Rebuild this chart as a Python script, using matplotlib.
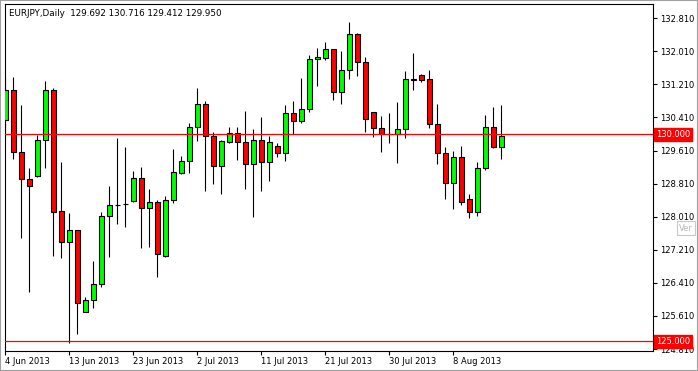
import matplotlib.pyplot as plt
from matplotlib.patches import Rectangle
import numpy as np

# EURJPY daily candles (open, high, low, close)
opens = [130.348, 131.073, 129.567, 128.921, 128.994, 129.857, 131.073, 128.140, 127.405, 127.680,
         125.712, 125.995, 126.374, 128.026, 128.296, 128.305, 128.382, 128.938, 128.212, 128.358,
         127.066, 128.406, 129.073, 129.349, 130.171, 130.728, 129.954, 129.228, 129.823, 130.026,
         129.809, 129.277, 129.857, 129.325, 129.712, 129.543, 130.510, 130.316, 130.607, 131.816,
         131.855, 132.058, 131.018, 131.550, 132.428, 131.743, 130.534, 130.147, 130.017, 130.002,
         130.123, 131.330, 131.429, 131.332, 130.244, 129.543, 128.817, 129.446, 128.430, 128.116,
         129.180, 130.171, 129.692]
highs = [131.395, 131.395, 130.711, 129.194, 129.985, 131.291, 131.115, 129.339, 128.092, 127.688,
         126.067, 126.938, 128.130, 128.752, 129.920, 129.695, 129.115, 129.211, 128.672, 128.413,
         128.510, 129.647, 129.470, 130.275, 131.122, 130.807, 130.058, 129.864, 130.179, 130.179,
         130.566, 130.130, 130.420, 129.961, 129.784, 130.711, 130.807, 131.364, 131.920, 132.082,
         132.234, 132.070, 132.017, 132.718, 132.452, 131.879, 130.540, 130.445, 130.517, 130.776,
         131.533, 131.968, 131.453, 131.557, 130.728, 129.702, 129.605, 129.719, 128.558, 129.332,
         130.469, 130.662, 130.716]
lows = [129.937, 129.405, 127.501, 126.181, 128.977, 129.194, 127.066, 127.018, 124.962, 125.173,
        125.697, 125.809, 126.316, 127.042, 127.826, 127.767, 128.372, 127.260, 127.284, 126.558,
        127.042, 128.348, 129.049, 129.073, 129.833, 128.638, 128.807, 128.566, 129.799, 129.388,
        128.686, 128.009, 128.638, 128.880, 129.460, 129.364, 130.009, 130.283, 130.549, 131.177,
        131.799, 130.832, 130.742, 131.347, 131.419, 130.065, 129.944, 129.581, 129.799, 129.315,
        129.920, 131.066, 131.274, 130.147, 129.291, 128.430, 128.203, 128.285, 127.971, 128.019,
        129.131, 129.664, 129.412]
closes = [131.073, 129.567, 128.914, 128.759, 129.864, 131.073, 128.130, 127.405, 127.680, 125.915,
          125.987, 126.374, 128.026, 128.285, 128.300, 128.310, 128.938, 128.212, 128.358, 127.100,
          128.406, 129.083, 129.349, 130.171, 130.728, 129.954, 129.228, 129.840, 130.026, 129.809,
          129.277, 129.857, 129.325, 129.809, 129.543, 130.510, 130.316, 130.607, 131.816, 131.879,
          132.058, 131.018, 131.550, 132.428, 131.743, 130.365, 130.147, 130.017, 130.020, 130.123,
          131.332, 131.322, 131.323, 130.244, 129.543, 128.817, 129.446, 128.358, 128.116, 129.180,
          130.171, 129.688, 129.950]

date_labels = ["4 Jun 2013", "13 Jun 2013", "23 Jun 2013", "2 Jul 2013",
               "11 Jul 2013", "21 Jul 2013", "30 Jul 2013", "8 Aug 2013"]
date_bars = [0, 8, 16, 24, 32, 40, 48, 56]

price_ticks = [124.810, 125.610, 126.410, 127.210, 128.010, 128.810,
               129.610, 130.410, 131.210, 132.010, 132.810]
levels = [130.000, 125.000]

W, H = 698, 371
fig = plt.figure(figsize=(W / 100, H / 100), dpi=100)
ax = fig.add_axes([4.7 / W, (H - 351) / H, (653 - 4.7) / W, (351 - 4) / H])

x = np.arange(len(opens))
o = np.array(opens)
c = np.array(closes)
colors = np.where(c > o, "#00ff00", "#ff0000")

# wicks then bodies
ax.vlines(x, lows, highs, color="black", linewidth=0.8, zorder=2)
ax.bar(x, np.abs(c - o), bottom=np.minimum(o, c), width=0.58,
       color=colors, edgecolor="black", linewidth=0.8, zorder=3)

# horizontal levels
for lv in levels:
    ax.axhline(lv, color="red", linewidth=0.9, zorder=4)
    ax.annotate(f"{lv:.3f}", xy=(1, lv), xycoords=("axes fraction", "data"),
                xytext=(2, 0), textcoords="offset points", ha="left", va="center",
                fontsize=6, color="white", zorder=10, annotation_clip=False,
                bbox=dict(boxstyle="square,pad=0.25", fc="red", ec="red"))

ax.set_xlim(-0.075, 80.96)
ax.set_ylim(124.762, 133.153)

ax.yaxis.tick_right()
ax.set_yticks(price_ticks)
ax.set_yticklabels([f"{t:.3f}" for t in price_ticks])
ax.set_xticks(date_bars)
ax.set_xticklabels(date_labels, ha="left")
ax.tick_params(axis="both", direction="out", length=3, width=0.8,
               labelsize=6, colors="black", pad=2)
ax.tick_params(axis="x", pad=1.5)
for s in ax.spines.values():
    s.set_color("black")
    s.set_linewidth(0.8)

# header
fig.text(9 / W, 1 - 13 / H,
         f"EURJPY,Daily  {opens[-1]:.3f} {highs[-1]:.3f} {lows[-1]:.3f} {closes[-1]:.3f}",
         fontsize=6.3, va="center", ha="left", color="black")

# leftover tooltip box, kept just below the 128.010 label
fig.text(679 / W, 1 - 228 / H, "Ver", fontsize=6, color="#b8b8b8", va="center",
         bbox=dict(boxstyle="square,pad=0.3", fc="none", ec="#c8c8c8", lw=0.8))

# window frame
fig.patches.append(Rectangle((0, 0), 1, 1, transform=fig.transFigure, fill=False,
                             ec="#a0a0a0", lw=1.5))

plt.savefig("out.png", dpi=100)
